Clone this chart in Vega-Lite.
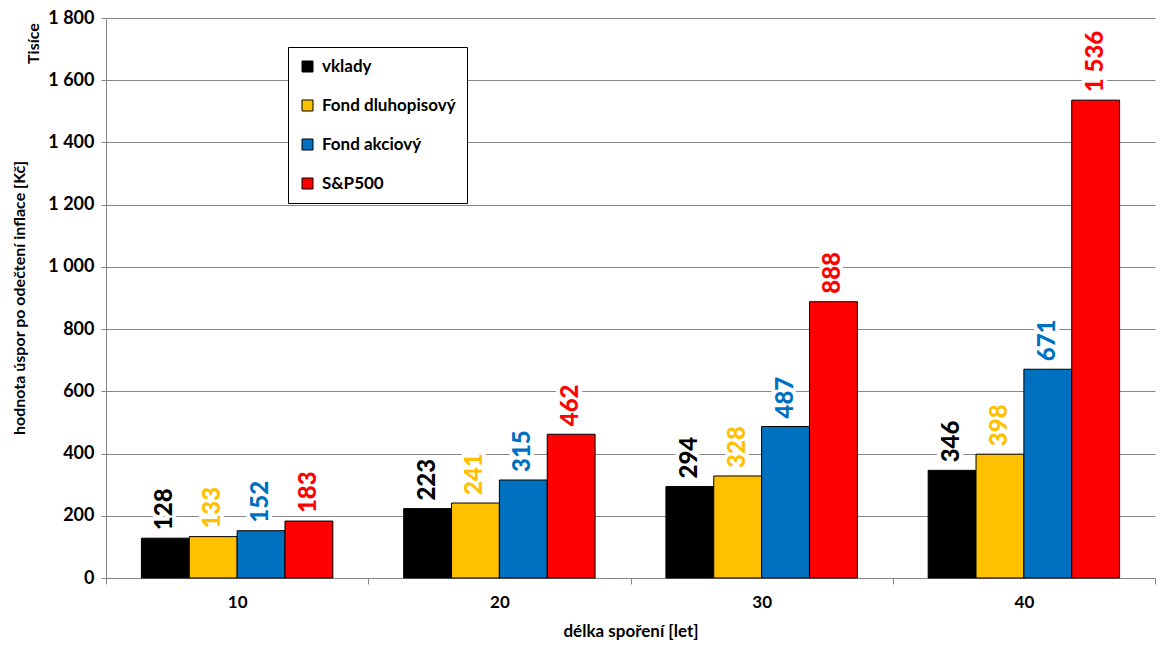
{
  "$schema": "https://vega.github.io/schema/vega-lite/v6.json",
  "width": 1049,
  "height": 560,
  "autosize": {"type": "none"},
  "padding": {"left": 106, "top": 18, "right": 17, "bottom": 79},
  "background": "white",
  "title": {
    "text": "hodnota úspor po odečtení inflace [Kč]",
    "orient": "left",
    "anchor": "middle",
    "fontSize": 16,
    "fontWeight": "bold",
    "color": "black",
    "offset": -3
  },
  "config": {
    "view": {"stroke": null},
    "font": "Lato",
    "locale": {"number": {"decimal": ",", "thousands": " ", "grouping": [3], "currency": ["", ""]}}
  },
  "data": {
    "values": [
      {"delka": "10", "fond": "vklady", "hodnota": 128},
      {"delka": "10", "fond": "Fond dluhopisový", "hodnota": 133},
      {"delka": "10", "fond": "Fond akciový", "hodnota": 152},
      {"delka": "10", "fond": "S&P500", "hodnota": 183},
      {"delka": "20", "fond": "vklady", "hodnota": 223},
      {"delka": "20", "fond": "Fond dluhopisový", "hodnota": 241},
      {"delka": "20", "fond": "Fond akciový", "hodnota": 315},
      {"delka": "20", "fond": "S&P500", "hodnota": 462},
      {"delka": "30", "fond": "vklady", "hodnota": 294},
      {"delka": "30", "fond": "Fond dluhopisový", "hodnota": 328},
      {"delka": "30", "fond": "Fond akciový", "hodnota": 487},
      {"delka": "30", "fond": "S&P500", "hodnota": 888},
      {"delka": "40", "fond": "vklady", "hodnota": 346},
      {"delka": "40", "fond": "Fond dluhopisový", "hodnota": 398},
      {"delka": "40", "fond": "Fond akciový", "hodnota": 671},
      {"delka": "40", "fond": "S&P500", "hodnota": 1536}
    ]
  },
  "encoding": {
    "x": {
      "field": "delka",
      "type": "ordinal",
      "scale": {"paddingInner": 0, "paddingOuter": 0},
      "axis": {
        "title": "délka spoření [let]",
        "titleFontSize": 17,
        "titleFontWeight": "bold",
        "titleColor": "black",
        "titlePadding": 13,
        "labelAngle": 0,
        "labelFontSize": 17,
        "labelFontWeight": "bold",
        "labelColor": "black",
        "labelPadding": 10,
        "tickBand": "extent",
        "tickSize": 6,
        "tickColor": "#868686",
        "domainColor": "#868686",
        "grid": false
      }
    },
    "xOffset": {
      "field": "fond",
      "type": "nominal",
      "sort": ["vklady", "Fond dluhopisový", "Fond akciový", "S&P500"],
      "scale": {"paddingInner": 0, "paddingOuter": 0.74}
    },
    "y": {
      "field": "hodnota",
      "type": "quantitative",
      "scale": {"domain": [0, 1800], "nice": false},
      "axis": {
        "values": [0, 200, 400, 600, 800, 1000, 1200, 1400, 1600, 1800],
        "format": ",d",
        "title": "Tisíce",
        "titleX": -73,
        "titleY": 25,
        "titleAngle": 270,
        "titleAlign": "center",
        "titleBaseline": "middle",
        "titleFontSize": 16,
        "titleFontWeight": "bold",
        "titleColor": "black",
        "labelFontSize": 18,
        "labelFontWeight": "bold",
        "labelColor": "black",
        "labelPadding": 7,
        "tickSize": 5,
        "tickColor": "#868686",
        "domainColor": "#868686",
        "gridColor": "#868686",
        "grid": true
      }
    }
  },
  "layer": [
    {
      "mark": {"type": "bar", "stroke": "black", "strokeWidth": 1},
      "encoding": {
        "color": {
          "field": "fond",
          "type": "nominal",
          "sort": ["vklady", "Fond dluhopisový", "Fond akciový", "S&P500"],
          "scale": {
            "domain": ["vklady", "Fond dluhopisový", "Fond akciový", "S&P500"],
            "range": ["#000000", "#FFC000", "#0070C0", "#FF0000"]
          },
          "legend": {
            "orient": "none",
            "legendX": 182,
            "legendY": 29,
            "title": null,
            "strokeColor": "black",
            "fillColor": "white",
            "padding": 11,
            "symbolType": "square",
            "symbolSize": 121,
            "symbolStrokeColor": "black",
            "symbolStrokeWidth": 1,
            "symbolOpacity": 1,
            "labelFontSize": 17,
            "labelFontWeight": "bold",
            "labelColor": "black",
            "labelOffset": 6,
            "rowPadding": 21
          }
        }
      }
    },
    {
      "mark": {
        "type": "text",
        "angle": 270,
        "align": "left",
        "baseline": "middle",
        "dx": 8,
        "fontSize": 24,
        "fontWeight": 900,
        "color": "white",
        "stroke": "white",
        "strokeWidth": 8,
        "strokeJoin": "round"
      },
      "encoding": {
        "text": {"field": "hodnota", "type": "quantitative", "format": ",d"}
      }
    },
    {
      "mark": {
        "type": "text",
        "angle": 270,
        "align": "left",
        "baseline": "middle",
        "dx": 8,
        "fontSize": 24,
        "fontWeight": 900
      },
      "encoding": {
        "text": {"field": "hodnota", "type": "quantitative", "format": ",d"},
        "color": {"field": "fond", "type": "nominal", "legend": null}
      }
    }
  ]
}
